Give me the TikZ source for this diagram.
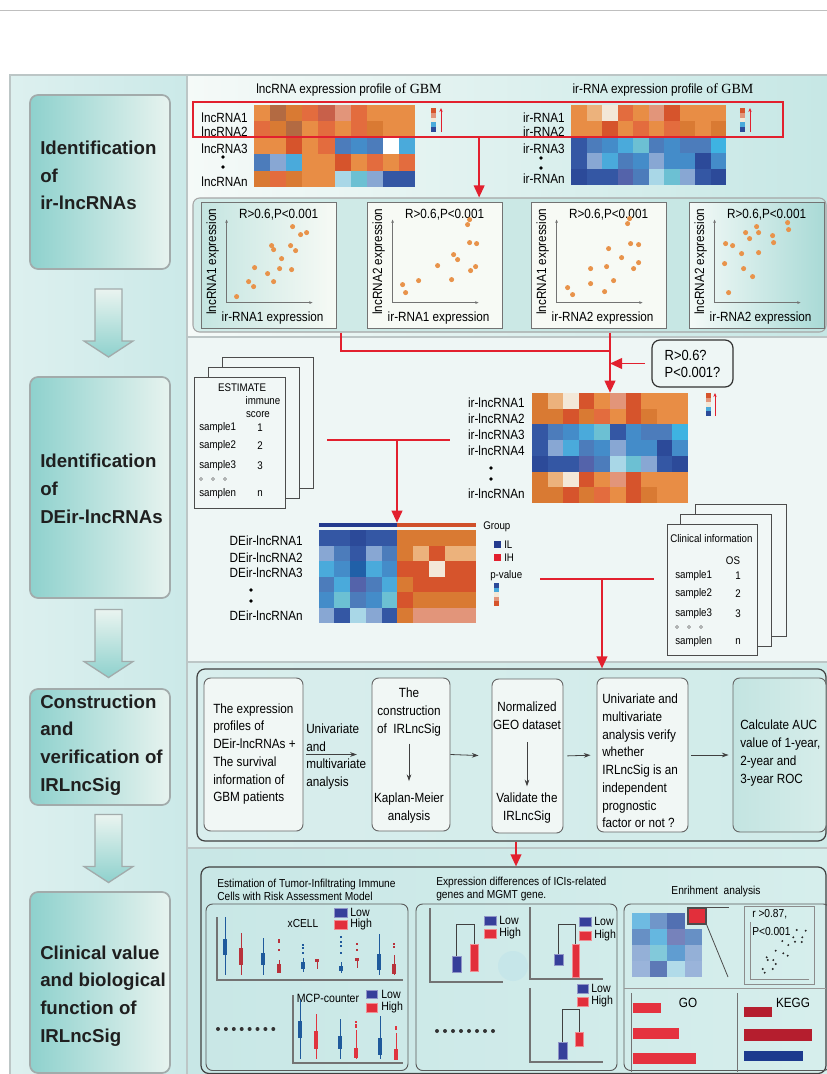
\documentclass[tikz,border=0pt]{standalone}
\usepackage{fontspec}
\setmainfont[FakeStretch=0.88]{Liberation Sans}
\newfontfamily\stagefont{Liberation Sans}
\newfontfamily\gbmfont{Liberation Serif}
\usetikzlibrary{calc,arrows.meta,positioning,fit}

\definecolor{redl}{HTML}{E2202E}
\definecolor{frameC}{HTML}{BCC6C6}
\definecolor{panL}{HTML}{DDF0EF}
\definecolor{panR}{HTML}{CBE9E8}
\definecolor{stT}{HTML}{8ED1CD}
\definecolor{stP}{HTML}{E7F3EF}
\definecolor{stA}{HTML}{EAF4F0}
\definecolor{stM}{HTML}{D8EEEA}
\definecolor{stB}{HTML}{A2ABAB}
\definecolor{s1L}{HTML}{F5FAF8}
\definecolor{s1R}{HTML}{C6E7E5}
\definecolor{s2C}{HTML}{EEF6F5}
\definecolor{s3L}{HTML}{D9EEED}
\definecolor{s3M}{HTML}{F1F8F6}
\definecolor{s3R}{HTML}{D0EBE9}
\definecolor{s4L}{HTML}{C8E7E6}
\definecolor{s4M}{HTML}{F3F9F7}
\definecolor{s4R}{HTML}{D6EEEC}
\definecolor{scL}{HTML}{D3ECE9}
\definecolor{scM}{HTML}{F2F7F3}
\definecolor{scR}{HTML}{C3E5E2}
\definecolor{scW}{HTML}{F7FAF5}
\definecolor{scT}{HTML}{C4E5E1}
\definecolor{scD}{HTML}{A9DAD6}
\definecolor{dotC}{HTML}{E8934B}
\definecolor{sheetC}{HTML}{F1F7F6}
\definecolor{cboxC}{HTML}{F1F7F5}
\definecolor{aucL}{HTML}{C3E4E1}
\definecolor{aucR}{HTML}{D6EDEA}
\definecolor{hO}{HTML}{E88D45}
\definecolor{hOd}{HTML}{D97A33}
\definecolor{hOl}{HTML}{ECB27C}
\definecolor{hCr}{HTML}{F3E8D8}
\definecolor{hR}{HTML}{D6542C}
\definecolor{hRo}{HTML}{E36C3E}
\definecolor{hRb}{HTML}{C8604A}
\definecolor{hSa}{HTML}{E2957A}
\definecolor{hBr}{HTML}{B36A42}
\definecolor{hB1}{HTML}{3457A4}
\definecolor{hB2}{HTML}{4C7CBB}
\definecolor{hB3}{HTML}{448CC9}
\definecolor{hB4}{HTML}{4AAADB}
\definecolor{hB5}{HTML}{6CC0D3}
\definecolor{hB6}{HTML}{88A7D3}
\definecolor{hB7}{HTML}{A9D7E7}
\definecolor{hB8}{HTML}{5463AA}
\definecolor{hB9}{HTML}{2C4A99}
\definecolor{hB10}{HTML}{2060A8}
\definecolor{hCy}{HTML}{3EB3E2}
\definecolor{grpL}{HTML}{243A8E}
\definecolor{grpR}{HTML}{D0502A}
\definecolor{bxB}{HTML}{1F5A9C}
\definecolor{bxR}{HTML}{B8323B}
\definecolor{bxRl}{HTML}{E0343F}
\definecolor{lowC}{HTML}{363F9A}
\definecolor{highC}{HTML}{E22F3B}
\definecolor{goC}{HTML}{E5323F}
\definecolor{keC}{HTML}{B51E2E}
\definecolor{keB}{HTML}{1C3A8E}
\definecolor{circC}{HTML}{C6E6E9}

\newcommand{\hmrow}[5]{\foreach \hc [count=\i from 0] in {#5} {\fill[\hc] ({#1+\i*#3},#2) rectangle ++({#3+0.4},{#4+0.4});}}
\newcommand{\cbar}[4]{\foreach \hc [count=\i from 0] in {#4} {\fill[\hc] (#1,{#2+\i*#3}) rectangle ++(5,{#3+0.2});}}
\newcommand{\stagearrow}[2]{%
  \draw[stagearr] let \p1=($(#1.south)!0.5!(#2.north)$) in
    (\x1-3.75pt,\y1+25.5pt) -- (\x1+16.5pt,\y1+25.5pt) -- (\x1+16.5pt,\y1-13.5pt) -- (\x1+24.75pt,\y1-13.5pt)
    -- (\x1+6.4pt,\y1-25.5pt) -- (\x1-12pt,\y1-13.5pt) -- (\x1-3.75pt,\y1-13.5pt) -- cycle;}
\newcommand{\scplot}[7]{%
  \node[scbox, #4, fit={(#2,#3) ({#2+135},{#3+126})}] (#1) {};
  \node (#1r) at ($(#1.north west)+(78,13)$) {R>0.6,P<0.001};
  \node[rotate=90] (#1y) at ($(#1.north west)+(12,60)$) {#5};
  \node (#1x) at ($(#1.north west)+(72,116)$) {#6};
  \draw[axisln] ($(#1.north west)+(26,101)$) -- ($(#1.north west)+(26,18)$);
  \draw[axisln] ($(#1.north west)+(26,101)$) -- ($(#1.north west)+(112,101)$);
  \foreach \px/\py in {#7} \fill[scdot] ($(#1.north west)+(\px,\py)$) circle (1.9pt);}
\newcommand{\bxp}[6]{\draw[#1, line width=0.5pt] (#2,#3) -- (#2,#4); \fill[#1] ({#2-2.4},#5) rectangle ({#2+2.4},#6);}
\newcommand{\outl}[3]{\foreach \oy in {#3} \fill[#1] ({#2-1.3},{\oy-0.7}) rectangle ({#2+1.3},{\oy+0.7});}

\begin{document}
\begin{tikzpicture}[x=0.75pt,y=-0.75pt,
  every node/.style={font=\fontsize{10}{12}\selectfont, inner sep=0pt},
  stage/.style={draw=stB, line width=1.3pt, rounded corners=6pt, left color=stT, right color=stP},
  stagetext/.style={anchor=west, align=left, text=black!88, font=\stagefont\bfseries\fontsize{14}{20.8}\selectfont},
  stagearr/.style={draw=stB, line width=1pt, top color=stA, middle color=stM, bottom color=stT},
  frameln/.style={draw=frameC, line width=0.8pt},
  hmlab/.style={anchor=east},
  selbox/.style={draw=redl, line width=1.5pt},
  redline/.style={draw=redl, line width=1.3pt},
  redarr/.style={redline, -{Triangle[length=9pt,width=8pt]}},
  cbarr/.style={draw=redl, line width=0.7pt, -{Stealth[length=3pt,width=2.5pt]}},
  scpanel/.style={draw=black!35, line width=0.8pt, rounded corners=5pt, left color=scL, middle color=scM, right color=scR},
  scbox/.style={draw=black!55, line width=0.6pt},
  axisln/.style={draw=black!55, line width=0.4pt, -{Stealth[length=2.5pt,width=2pt]}},
  scdot/.style={fill=dotC},
  smalltxt/.style={font=\fontsize{8.3}{10}\selectfont},
  sheet/.style={draw=black!70, line width=0.7pt, fill=sheetC},
  rqbox/.style={draw=black!80, line width=0.9pt, rounded corners=6pt, align=left, font=\fontsize{11}{12.8}\selectfont, minimum width=60.75pt, minimum height=35.25pt},
  bigbox/.style={draw=black!75, line width=0.9pt, rounded corners=6pt},
  cbox/.style={draw=black!60, line width=0.7pt, rounded corners=5pt, fill=cboxC},
  ctext/.style={align=center, font=\fontsize{10}{13.5}\selectfont},
  ltext/.style={align=left, font=\fontsize{10}{13.3}\selectfont},
  blkarr/.style={draw=black!75, line width=0.6pt, -{Stealth[length=5pt,width=3.5pt]}},
  btitle/.style={anchor=west, align=left, font=\fontsize{8.7}{9.75}\selectfont},
  pnl/.style={draw=black!65, line width=0.7pt, rounded corners=5pt},
  lgd/.style={anchor=west, font=\fontsize{9}{10}\selectfont},
  bxax/.style={draw=black!55, line width=1pt},
  brk/.style={draw=black!75, line width=0.7pt},
  lowbar/.style={fill=lowC, draw=lowC!55!white, line width=0.4pt},
  highbar/.style={fill=highC, draw=highC!55!white, line width=0.4pt}]
\useasboundingbox (0,0) rectangle (827,1074);
\clip (0,0) rectangle (827,1074);

% panels
\fill[left color=panL, right color=panR] (10,75) rectangle (187,1074);
\fill[left color=s1L, right color=s1R] (187,75) rectangle (827,337);
\fill[s2C] (187,337) rectangle (827,662);
\fill[left color=s3L, middle color=s3M, right color=s3R] (187,662) rectangle (827,848);
\fill[left color=s4L, middle color=s4M, right color=s4R] (187,848) rectangle (827,1074);
\draw[black!25, line width=0.6pt] (0,10) -- (827,10);
\draw[frameln] (10,1074) -- (10,75) -- (827,75);
\draw[frameln] (187,75) -- (187,1074);
\foreach \yy in {337,662,848} \draw[frameln] (187,\yy) -- (827,\yy);

% stages
\node[stage, fit={(30,95) (170,269)}] (s1) {};
\node[stage, fit={(30,377) (170,598)}] (s2) {};
\node[stage, fit={(30,689) (170,805)}] (s3) {};
\node[stage, fit={(30,892) (170,1073)}] (s4) {};
\node[stagetext] (s1t) at (40,175.5) {Identification\\of\\ir-lncRNAs};
\node[stagetext] (s2t) at (40,489) {Identification\\of\\DEir-lncRNAs};
\node[stagetext] (s3t) at (40,745) {Construction\\and\\verification of\\IRLncSig};
\node[stagetext] (s4t) at (40,996) {Clinical value\\and biological\\function of\\IRLncSig};
\stagearrow{s1}{s2}
\stagearrow{s2}{s3}
\stagearrow{s3}{s4}

% expression profiles
\node (hd1) at (349,90) {lncRNA expression profile {\gbmfont\fontsize{10.5}{12}\selectfont of GBM}};
\node (hd2) at (663,90) {ir-RNA expression profile {\gbmfont\fontsize{10.5}{12}\selectfont of GBM}};
\hmrow{254}{105}{16.1}{16.4}{hO,hBr,hOd,hRo,hRb,hSa,hRo,hO,hO,hO}
\hmrow{254}{121.4}{16.1}{16.4}{hRo,hOd,hBr,hO,hRo,hO,hRo,hOd,hO,hO}
\hmrow{254}{137.8}{16.1}{16.4}{hO,hO,hR,hO,hRo,hB2,hB3,hB2,white,hB4}
\hmrow{254}{154.2}{16.1}{16.4}{hB2,hB6,hB4,hO,hO,hR,hO,hRo,hO,hRo}
\hmrow{254}{170.6}{16.1}{16.4}{hOd,hRo,hOd,hO,hO,hB7,hB5,hB6,hB1,hB1}
\hmrow{571}{105}{15.5}{16}{hO,hOl,hCr,hRo,hO,hSa,hR,hO,hO,hO}
\hmrow{571}{121}{15.5}{16}{hO,hO,hR,hO,hRo,hO,hRo,hOd,hO,hOd}
\hmrow{571}{137}{15.5}{16}{hB1,hB2,hB3,hB4,hB5,hB2,hB3,hB2,hB2,hCy}
\hmrow{571}{153}{15.5}{16}{hB1,hB6,hB4,hB2,hB3,hB6,hB3,hB3,hB9,hB3}
\hmrow{571}{169}{15.5}{16}{hB9,hB1,hB1,hB8,hB2,hB7,hB5,hB6,hB1,hB9}
\node[hmlab] (la1) at (248,118) {lncRNA1};
\node[hmlab] (la2) at (248,132) {lncRNA2};
\node[hmlab] (la3) at (248,149) {lncRNA3};
\node[hmlab] (lan) at (248,182) {lncRNAn};
\fill (223,157) circle (1.4pt) (223,167) circle (1.4pt);
\node[hmlab] (lb1) at (565,118) {ir-RNA1};
\node[hmlab] (lb2) at (565,132) {ir-RNA2};
\node[hmlab] (lb3) at (565,149) {ir-RNA3};
\node[hmlab] (lbn) at (565,179) {ir-RNAn};
\fill (541,158) circle (1.4pt) (541,168) circle (1.4pt);
\cbar{431}{108}{4.8}{hR,hSa,hCr,hB4,hB9}
\cbar{740}{108}{4.8}{hR,hSa,hCr,hB4,hB9}
\draw[cbarr] (441,132) -- (441,108);
\draw[cbarr] (750,132) -- (750,108);
\node[selbox, fit={(193,102) (783,137)}] (sel) {};

% correlation plots
\node[scpanel, fit={(193,198) (826,332)}] (scp) {};
\draw[redarr] ($(sel.south west)!0.485!(sel.south east)$) coordinate (selm) -- (selm |- scp.north);
\scplot{sc1}{201}{202}{left color=scT, right color=scW}{lncRNA1 expression}{ir-RNA1 expression}{92/25,100/33,106/31,71/44,73/48,90/44,95/49,81/57,54/66,79/67,91/68,67/72,48/80,53/85,73/80,36/95}
\scplot{sc2}{367}{202}{fill=scW}{lncRNA2 expression}{ir-RNA1 expression}{103/18,101/23,110/42,103/41,87/53,91/58,71/64,109/65,104/69,52/79,85/78,36/83,39/91}
\scplot{sc3}{531}{202}{fill=scW}{lncRNA1 expression}{ir-RNA2 expression}{99/17,97/22,100/42,108/43,78/47,91/56,60/67,76/65,108/61,103/67,83/79,60/82,74/90,37/86,42/93}
\scplot{sc4}{689}{202}{left color=s1L, right color=scD}{lncRNA2 expression}{ir-RNA2 expression}{99/21,100/28,68/25,70/31,57/31,61/37,84/34,85/41,37/42,44/44,53/52,70/51,36/62,55/67,64/75,40/91}

% ir-lncRNAs
\coordinate (j1) at (341,351);
\node[fit={(532,393) (688,503)}] (irl) {};
\hmrow{532}{393}{15.6}{15.7}{hOd,hOl,hCr,hR,hO,hSa,hR,hO,hO,hO}
\hmrow{532}{408.7}{15.6}{15.7}{hOd,hOd,hR,hOd,hRo,hO,hR,hOd,hO,hO}
\hmrow{532}{424.4}{15.6}{15.7}{hB1,hB2,hB3,hB4,hB5,hB1,hB3,hB2,hB2,hCy}
\hmrow{532}{440.1}{15.6}{15.7}{hB1,hB6,hB4,hB2,hB3,hB6,hB3,hB3,hB9,hB3}
\hmrow{532}{455.8}{15.6}{15.7}{hB9,hB1,hB1,hB8,hB2,hB7,hB5,hB6,hB1,hB9}
\hmrow{532}{471.5}{15.6}{15.7}{hOd,hOl,hCr,hR,hO,hSa,hR,hO,hO,hO}
\hmrow{532}{487.2}{15.6}{15.7}{hOd,hOd,hR,hOd,hRo,hO,hR,hOd,hO,hO}
\node[hmlab] (il1) at (525,403) {ir-lncRNA1};
\node[hmlab] (il2) at (525,419) {ir-lncRNA2};
\node[hmlab] (il3) at (525,435) {ir-lncRNA3};
\node[hmlab] (il4) at (525,451) {ir-lncRNA4};
\node[hmlab] (iln) at (525,494) {ir-lncRNAn};
\fill (491,468) circle (1.4pt) (491,479) circle (1.4pt);
\cbar{706}{393}{4.6}{hR,hSa,hCr,hB4,hB9}
\draw[cbarr] (715,416) -- (715,393);
\draw[redline] (scp.south -| j1) |- (j1 -| irl.north);
\draw[redarr] (scp.south -| irl.north) -- (irl.north);
\node[rqbox] (rq) at (692.5,363.5) {R>0.6?\\P<0.001?};
\draw[redarr, shorten <=5pt] (rq.west) -- (rq.west -| irl.north);

% ESTIMATE
\draw[sheet] (222,357) rectangle (313,488);
\draw[sheet] (208,367) rectangle (299,498);
\node[sheet, fit={(194,377) (285,508)}] (est) {};
\node[smalltxt] (e0) at (242,388) {ESTIMATE};
\node[smalltxt] (e1) at (263,401) {immune};
\node[smalltxt] (e2) at (258,415) {score};
\node[smalltxt, anchor=west] (e3) at (199,428) {sample1};
\node[smalltxt] (e3v) at (260,428) {1};
\node[smalltxt, anchor=west] (e4) at (199,446) {sample2};
\node[smalltxt] (e4v) at (260,446) {2};
\node[smalltxt, anchor=west] (e5) at (199,466) {sample3};
\node[smalltxt] (e5v) at (260,466) {3};
\node[smalltxt, anchor=west] (e6) at (199,494) {samplen};
\node[smalltxt] (e6v) at (260,494) {n};
\foreach \cx in {201,213,225} \draw[black!55, line width=0.4pt] (\cx,479) circle (1.2pt);
\coordinate (estL) at (327,440);
\coordinate (estR) at (450,440);

% DEir-lncRNAs
\node[fit={(318,523) (476,623)}] (de) {};
\draw[redline] (estL) -- (estR);
\draw[redarr] (estL -| de.north) -- (de.north);
\fill[grpL] (318.5,523) rectangle (397,527);
\fill[grpR] (397,523) rectangle (476,527);
\hmrow{318.5}{530}{15.75}{15.5}{hB1,hB1,hB9,hB1,hB1,hOd,hOd,hOd,hOd,hOd}
\hmrow{318.5}{545.5}{15.75}{15.5}{hB6,hB2,hB1,hB6,hB2,hOd,hOl,hR,hOl,hOl}
\hmrow{318.5}{561}{15.75}{15.5}{hB4,hB3,hB10,hB4,hB3,hR,hR,hCr,hR,hR}
\hmrow{318.5}{576.5}{15.75}{15.5}{hB2,hB4,hB8,hB2,hB4,hOd,hR,hR,hR,hR}
\hmrow{318.5}{592}{15.75}{15.5}{hB3,hB5,hB2,hB3,hB5,hR,hOd,hOd,hOd,hOd}
\hmrow{318.5}{607.5}{15.75}{15.5}{hB6,hB1,hB7,hB6,hB1,hOd,hSa,hSa,hSa,hSa}
\node[hmlab] (dl1) at (303,541) {DEir-lncRNA1};
\node[hmlab] (dl2) at (303,558) {DEir-lncRNA2};
\node[hmlab] (dl3) at (303,573) {DEir-lncRNA3};
\node[hmlab] (dln) at (303,616) {DEir-lncRNAn};
\fill (251,590) circle (1.4pt) (251,601) circle (1.4pt);
\node[smalltxt, anchor=west] (grp) at (483,527) {Group};
\fill[grpL] (494,541) rectangle (501,548);
\node[smalltxt, anchor=west] (gil) at (504,544.5) {IL};
\fill[redl] (494,554) rectangle (501,561);
\node[smalltxt, anchor=west] (gih) at (504,557.5) {IH};
\node[smalltxt, anchor=west] (pval) at (490,576) {p-value};
\cbar{494}{583}{4.6}{hB9,hB4,hCr,hSa,hR}

% clinical information
\draw[sheet] (695,504) rectangle (786,636);
\draw[sheet] (680,514) rectangle (771,646);
\node[sheet, fit={(667,524) (757,655)}] (cli) {};
\node[smalltxt, anchor=west] (c0) at (670,539) {Clinical information};
\node[smalltxt] (c1) at (733,561) {OS};
\node[smalltxt, anchor=west] (c2) at (675,576) {sample1};
\node[smalltxt] (c2v) at (738,576) {1};
\node[smalltxt, anchor=west] (c3) at (675,594) {sample2};
\node[smalltxt] (c3v) at (738,594) {2};
\node[smalltxt, anchor=west] (c4) at (675,614) {sample3};
\node[smalltxt] (c4v) at (738,614) {3};
\node[smalltxt, anchor=west] (c5) at (675,642) {samplen};
\node[smalltxt] (c5v) at (738,642) {n};
\foreach \cx in {677,689,701} \draw[black!55, line width=0.4pt] (\cx,627) circle (1.2pt);
\coordinate (cliL) at (540,579);
\coordinate (cliR) at (654,579);
\coordinate (cliM) at (602,579);

% construction and verification
\node[bigbox, fit={(197,669) (826,841)}] (cons) {};
\draw[redline] (cliL) -- (cliR);
\draw[redarr] (cliM) -- (cliM |- cons.north);
\node[cbox, fit={(204,678) (303,831)}] (b1) {};
\node[cbox, fit={(372,678) (450,831)}] (b2) {};
\node[cbox, fit={(492,679) (563,833)}] (b3) {};
\node[cbox, fit={(597,678) (688,832)}] (b4) {};
\node[cbox, fit={(733,678) (826,832)}, left color=aucL, right color=aucR] (b5) {};
\node[ltext, anchor=west] (b1t) at (213,754) {The expression\\profiles of\\DEir-lncRNAs +\\The survival\\information of\\GBM patients};
\node[ctext] (b2a) at (409,712.5) {The\\construction\\of\ \ IRLncSig};
\node[ctext] (b2b) at (409,808.5) {Kaplan-Meier\\analysis};
\node[ctext] (b3a) at (527,716) {Normalized\\GEO dataset};
\node[ctext] (b3b) at (527,808.5) {Validate the\\IRLncSig};
\node[ltext, anchor=west] (b4t) at (602,761) {Univariate and\\multivariate\\analysis verify\\whether\\IRLncSig is an\\independent\\prognostic\\factor or not ?};
\node[ltext, anchor=west] (b5t) at (740,753) {Calculate AUC\\value of 1-year,\\2-year and\\3-year ROC};
\node[ltext, anchor=west] (uv) at (306,756.5) {Univariate\\and\\multivariate\\analysis};
\draw[blkarr, shorten <=5pt, shorten >=9pt] (b2a) -- (b2b);
\draw[blkarr, shorten <=9pt, shorten >=5pt] (b3a) -- (b3b);
\draw[blkarr, shorten <=2pt, shorten >=11pt] (b1.east) -- (b2.west);
\draw[blkarr, shorten >=9.75pt] (b2.east) -- (b3.west);
\draw[blkarr, shorten <=3pt, shorten >=4.5pt] (b3.east) -- (b4.west);
\draw[blkarr, shorten <=2pt, shorten >=3pt] (b4.east) -- (b5.west);

% clinical value and biological function
\node[bigbox, fit={(201,867) (826,1073.5)}] (clin) {};
\draw[redarr] ($(cons.south)+(4.5,0)$) coordinate (cs) -- (cs |- clin.north);
\node[btitle] (ta) at (217,889.5) {Estimation of Tumor-Infiltrating Immune\\Cells with Risk Assessment Model};
\node[btitle] (tb) at (436,889) {Expression differences of ICIs-related\\genes and MGMT gene.};
\node[font=\fontsize{8.7}{10}\selectfont] (tc) at (716,891) {Enrihment\ \ analysis};
\node[pnl, fit={(206,904) (408,1070.5)}] (pa) {};
\node[pnl, fit={(416,904) (617,1070.5)}] (pb) {};
\node[pnl, fit={(624,904) (830,1070.5)}] (pc) {};

% immune cell boxplots
\draw[bxax] (217,917) -- (217,980) -- (403,980);
\node[font=\fontsize{8.7}{10}\selectfont] (xc) at (303,923) {xCELL};
\fill[lowbar] (334,908) rectangle (347,917);
\node[lgd] (xl) at (350,912.5) {Low};
\fill[highbar] (334,920) rectangle (347,929);
\node[lgd] (xh) at (350,924.5) {High};
\bxp{bxB}{225}{917}{975}{939}{955}
\bxp{bxR}{241}{933}{975}{948}{965}
\bxp{bxB}{263}{938}{975}{953}{965}
\bxp{bxR}{279}{960}{973}{964}{973}
\outl{bxR}{279}{940,942,950}
\bxp{bxB}{303}{958}{972}{962}{969}
\outl{bxB}{303}{945,948,953}
\bxp{bxR}{317}{960}{969}{959}{962}
\bxp{bxB}{341}{962}{973}{966}{971}
\outl{bxB}{341}{937,942,946,953}
\bxp{bxR}{357}{960}{968}{958}{961}
\outl{bxR}{357}{944,950}
\bxp{bxB}{379}{934}{975}{954}{970}
\bxp{bxR}{394}{955}{975}{964}{974}
\outl{bxR}{394}{944,947}
\draw[bxax] (293,995) -- (293,1063) -- (403,1063);
\node[font=\fontsize{9}{10}\selectfont] (mcp) at (328,998) {MCP-counter};
\fill[lowbar] (366,990) rectangle (377,998);
\node[lgd] (ml) at (381,994) {Low};
\fill[highbar] (366,1003) rectangle (377,1012);
\node[lgd] (mh) at (381,1007.5) {High};
\bxp{bxB}{300}{1000}{1059}{1021}{1038}
\bxp{bxRl}{316}{1014}{1059}{1031}{1049}
\bxp{bxB}{340}{1019}{1059}{1036}{1049}
\bxp{bxRl}{356}{1030}{1059}{1048}{1058}
\outl{bxRl}{356}{1022,1025,1027}
\bxp{bxB}{380}{1016}{1059}{1038}{1055}
\bxp{bxRl}{396}{1033}{1059}{1049}{1060}
\outl{bxRl}{396}{1027,1029}
\foreach \k in {0,...,7} \fill[black!80] ({218+\k*7.9},1029) circle (1.5pt);

% ICIs and MGMT
\fill[circC] (513,966) circle (11.25pt);
\draw[bxax] (430,908) -- (430,982) -- (503,982);
\draw[brk] (456.5,956) -- (456.5,924) -- (474,924) -- (474,944);
\fill[lowbar] (452,956) rectangle (461,972);
\fill[highbar] (470,944) rectangle (478,971);
\fill[lowbar] (484,916) rectangle (496,925);
\node[lgd] (il) at (499,920.5) {Low};
\fill[highbar] (484,929) rectangle (496,938);
\node[lgd] (ih) at (499,933.5) {High};
\draw[bxax] (530,907) -- (530,979) -- (603,979);
\draw[brk] (558.5,954) -- (558.5,924) -- (575.5,924) -- (575.5,944);
\fill[lowbar] (554,954) rectangle (563,965);
\fill[highbar] (572,944) rectangle (579,977);
\fill[lowbar] (579,917) rectangle (591,926);
\node[lgd] (jl) at (594,921.5) {Low};
\fill[highbar] (579,931) rectangle (591,940);
\node[lgd] (jh) at (594,935.5) {High};
\draw[bxax] (530,988) -- (530,1062) -- (603,1062);
\draw[brk] (562.5,1042) -- (562.5,1009) -- (579,1009) -- (579,1032);
\fill[lowbar] (558,1042) rectangle (567,1059);
\fill[highbar] (575,1032) rectangle (583,1046);
\fill[lowbar] (577,984) rectangle (588,993);
\node[lgd] (kl) at (591,988.5) {Low};
\fill[highbar] (577,997) rectangle (588,1006);
\node[lgd] (kh) at (591,1001.5) {High};
\foreach \k in {0,...,7} \fill[black!80] ({437+\k*8},1031) circle (1.5pt);

% enrichment
\hmrow{632}{913}{17.5}{16}{hB4!80,hB2!80,hB1!85}
\hmrow{632}{929}{17.5}{16}{hB2!85,hB4!85,hB8!80,hB2!85}
\hmrow{632}{945}{17.5}{16}{hB6!90,hB5!85,hB3!85,hB6!90}
\hmrow{632}{961}{17.5}{16}{hB6!85,hB1!80,hB7!90,hB6!85}
\node[draw=black!70, line width=0.8pt, fill=highC, fit={(688,908) (706,924)}] (rsq) {};
\coordinate (zEnd) at (728,977);
\draw[black!70, line width=0.6pt] (rsq.north east) -- ++(22,0);
\draw[black!70, line width=0.6pt] (rsq.south east) -- (zEnd);
\node[draw=black!45, line width=0.6pt, fit={(744,906) (814,984)}] (rsc) {};
\draw[black!45, line width=0.5pt] (750,922) -- (750,979) -- (809,979);
\node[anchor=west, font=\fontsize{8.7}{10}\selectfont] (rv) at (752,914) {r >0.87,};
\node[anchor=west, font=\fontsize{8.7}{10}\selectfont] (pv2) at (752,931) {P<0.001};
\foreach \qx/\qy in {796.7/930,805.7/930.7,782.3/941,793.3/937.3,802.3/937.3,795/941.7,801.7/942,788.3/945,775.7/950.7,783.3/953.3,787.7/955.7,766.7/957.3,767.7/960,773.3/960,775.7/964,762.7/969,772.7/969,764.7/972.7}
  \fill[black!85] (\qx,\qy) circle (0.8pt);
\draw[black!40, line width=0.6pt] (624,988) -- (826,988);
\draw[black!55, line width=0.6pt] (631,993) -- (631,1072);
\draw[black!55, line width=0.6pt] (737,993) -- (737,1072);
\node (go) at (688,1003) {GO};
\node (kegg) at (793,1003) {KEGG};
\fill[goC] (633,1003) rectangle (661,1013);
\fill[goC] (633,1028) rectangle (679,1039);
\fill[goC] (633,1053) rectangle (696,1064);
\fill[keC] (744,1007) rectangle (772,1017);
\fill[keC] (744,1029) rectangle (812,1041);
\fill[keB] (744,1051) rectangle (803,1061);
\end{tikzpicture}
\end{document}
